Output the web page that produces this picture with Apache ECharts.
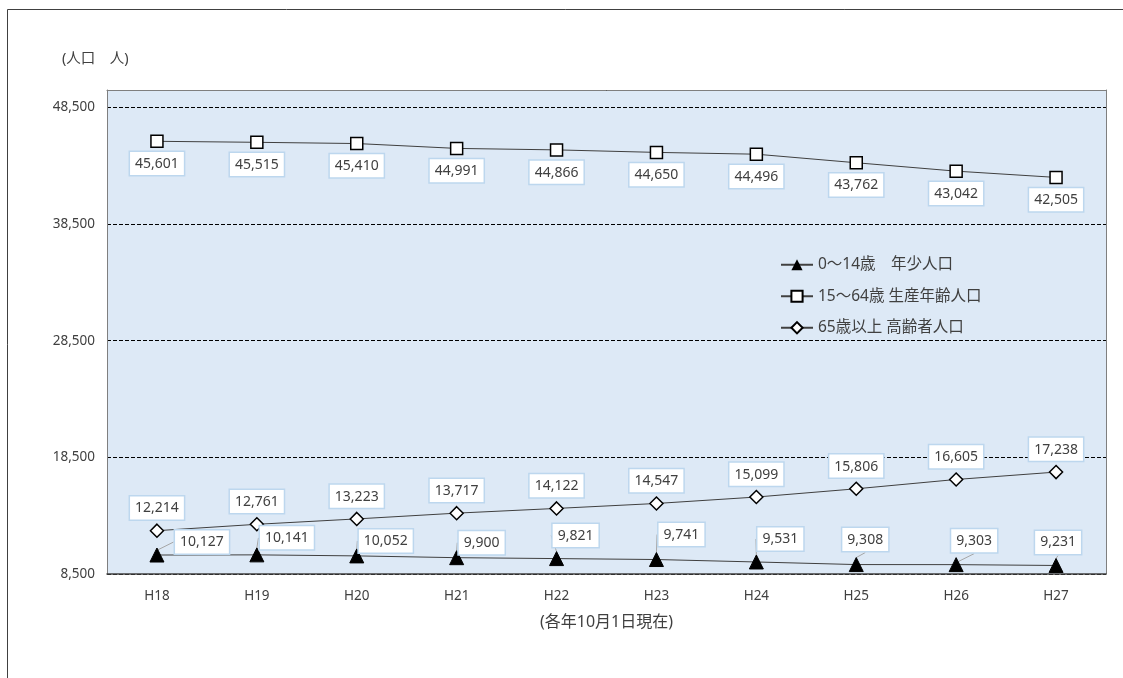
<!DOCTYPE html>
<html><head><meta charset="utf-8">
<script src="https://cdn.jsdelivr.net/npm/echarts@6/dist/echarts.min.js"></script>
<style>html,body{margin:0;padding:0;background:#fff}#c{width:1123px;height:678px}</style>
</head><body><div id="c"></div>
<script>
var categories = ['H18','H19','H20','H21','H22','H23','H24','H25','H26','H27'];
var youth = [10127,10141,10052,9900,9821,9741,9531,9308,9303,9231];
var working = [45601,45515,45410,44991,44866,44650,44496,43762,43042,42505];
var elderly = [12214,12761,13223,13717,14122,14547,15099,15806,16605,17238];
var seriesNames = ['0～14歳　年少人口','15～64歳 生産年齢人口','65歳以上 高齢者人口'];
var yTicksMin = 8500, yTickStep = 10000, yMax = 50000;
// label placement (pixels from marker centre) for the 0～14歳 series
var youthLabelShift = [[45,-13],[30,-17],[29,-15],[25,-15],[19,-23],[25,-25],[24,-23],[9,-25],[18,-24],[2,-23]];

var FONT = '"Noto Sans","Noto Sans CJK JP",sans-serif';
var TXT = '#404040';
function fmt(v){ return v.toLocaleString('en-US'); }
var boxLabel = {
  show: true, color: TXT, fontSize: 14, fontFamily: FONT,
  backgroundColor: '#ffffff', borderColor: '#bdd7ee', borderWidth: 1.5,
  padding: [5, 5, 4, 5],
  formatter: function(p){ return fmt(p.value); }
};
var chart = echarts.init(document.getElementById('c'));
chart.setOption({
  animation: false,
  backgroundColor: '#ffffff',
  graphic: [{
    type: 'rect', shape: {x: 7.5, y: 9.5, width: 1300, height: 1000},
    style: {fill: 'none', stroke: '#404040', lineWidth: 1}, silent: true, z: -10
  }, {
    type: 'text', left: 62, top: 52,
    style: {text: '(人口　人)', fill: TXT, font: '14.5px ' + FONT}
  }],
  grid: {left: 107, right: 17, top: 90, bottom: 104, show: true,
         backgroundColor: '#dde9f6', borderWidth: 0},
  legend: {
    orient: 'vertical', left: 775, top: 252, itemGap: 16, itemWidth: 32, itemHeight: 14,
    textStyle: {color: TXT, fontSize: 15.5, fontFamily: FONT},
    data: seriesNames
  },
  xAxis: [{
    type: 'category', data: categories, boundaryGap: true,
    axisLine: {show: true, lineStyle: {color: '#404040', width: 1.5}},
    axisTick: {show: false},
    axisLabel: {color: TXT, fontSize: 13.5, fontFamily: FONT, margin: 15},
    name: '(各年10月1日現在)', nameLocation: 'middle', nameGap: 40,
    nameTextStyle: {color: TXT, fontSize: 16, fontFamily: FONT}
  }, {
    type: 'category', data: categories, position: 'top',
    axisLine: {show: true, lineStyle: {color: '#7f7f7f', width: 1}},
    axisTick: {show: false}, axisLabel: {show: false}
  }],
  yAxis: [{
    type: 'value', min: yTicksMin, max: yMax, interval: yTickStep,
    axisLine: {show: true, lineStyle: {color: '#7f7f7f', width: 1}},
    axisTick: {show: false},
    axisLabel: {color: TXT, fontSize: 13.5, fontFamily: FONT, margin: 12, showMaxLabel: false,
                formatter: function(v){ return fmt(v); }},
    splitLine: {show: true, lineStyle: {color: '#000000', type: [4, 2], width: 1}}
  }, {
    type: 'value', min: yTicksMin, max: yMax, interval: yTickStep, position: 'right',
    axisLine: {show: true, lineStyle: {color: '#7f7f7f', width: 1}},
    axisTick: {show: false}, axisLabel: {show: false}, splitLine: {show: false}
  }],
  series: [{
    name: seriesNames[0], type: 'line', data: youth,
    symbol: 'triangle', symbolSize: 14,
    itemStyle: {color: '#000000', borderColor: '#000000'},
    lineStyle: {color: '#404040', width: 1},
    label: Object.assign({}, boxLabel, {position: 'top', distance: 2}),
    labelLayout: function(p){
      var s = youthLabelShift[p.dataIndex] || [22, -20];
      return {
        x: p.rect.x + p.rect.width / 2 + s[0],
        y: p.rect.y + p.rect.height / 2 + s[1],
        align: 'center', verticalAlign: 'middle'
      };
    },
    labelLine: {show: true, lineStyle: {color: '#a6a6a6', width: 1}},
    z: 3
  }, {
    name: seriesNames[1], type: 'line', data: working,
    symbol: 'rect', symbolSize: 12,
    itemStyle: {color: '#ffffff', borderColor: '#000000', borderWidth: 1.5},
    lineStyle: {color: '#404040', width: 1},
    label: Object.assign({}, boxLabel, {position: 'bottom', distance: 4}),
    z: 3
  }, {
    name: seriesNames[2], type: 'line', data: elderly,
    symbol: 'diamond', symbolSize: 13,
    itemStyle: {color: '#ffffff', borderColor: '#000000', borderWidth: 1.5},
    lineStyle: {color: '#404040', width: 1},
    label: Object.assign({}, boxLabel, {position: 'top', distance: 4}),
    z: 3
  }]
});
</script></body></html>
